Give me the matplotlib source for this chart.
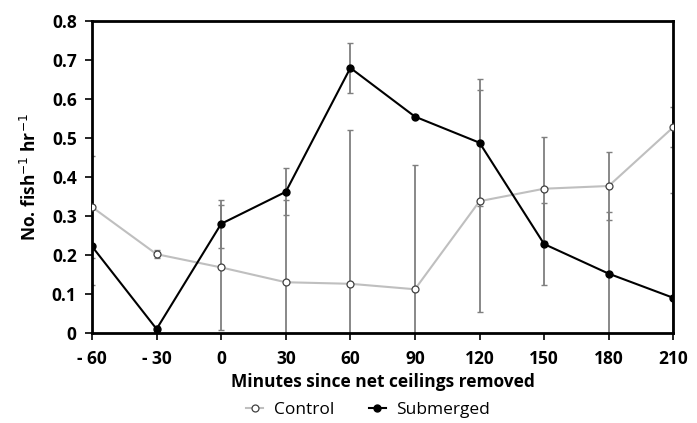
import matplotlib.pyplot as plt
import numpy as np

plt.rcParams['font.family'] = ['Open Sans', 'DejaVu Sans']

minutes = ['- 60', '- 30', '0', '30', '60', '90', '120', '150', '180', '210']
control = [0.323, 0.202, 0.168, 0.130, 0.126, 0.112, 0.338, 0.370, 0.377, 0.528]
control_err = [0.130, 0.010, 0.160, 0.210, 0.394, 0.320, 0.285, 0.133, 0.088, 0.052]
submerged = [0.222, 0.010, 0.280, 0.362, 0.680, 0.555, 0.488, 0.228, 0.152, 0.090]
submerged_err = [0.100, 0.008, 0.062, 0.060, 0.065, 0.004, 0.163, 0.105, 0.158, 0.270]

x = np.arange(len(minutes))

fig = plt.figure(figsize=(6.97, 4.23), dpi=100)
ax = fig.add_axes([0.132, 0.213, 0.834, 0.737])

# error bars first so the lines sit on top
ax.errorbar(x, control, yerr=control_err, fmt='none', ecolor='#7f7f7f',
            elinewidth=1.3, capsize=2.5, capthick=1.0, zorder=2)
ax.errorbar(x, submerged, yerr=submerged_err, fmt='none', ecolor='#7f7f7f',
            elinewidth=1.3, capsize=2.5, capthick=1.0, zorder=2)

ax.plot(x, control, color='#bfbfbf', lw=1.5, marker='o', ms=5,
        mfc='white', mec='#404040', mew=0.9, label='Control', zorder=3)
ax.plot(x, submerged, color='black', lw=1.5, marker='o', ms=5,
        mfc='black', mec='black', label='Submerged', zorder=4)

ax.set_xlim(0, 9)
ax.set_ylim(0, 0.8)
ax.set_xticks(x)
ax.set_xticklabels(minutes)
ax.set_yticks(np.arange(0, 0.81, 0.1))
ax.set_yticklabels(['0'] + ['%.1f' % v for v in np.arange(0.1, 0.81, 0.1)])

for lbl in ax.get_xticklabels() + ax.get_yticklabels():
    lbl.set_fontweight('bold')
    lbl.set_fontsize(12.5)

for s in ax.spines.values():
    s.set_linewidth(2)
    s.set_color('black')
ax.tick_params(axis='both', direction='out', length=5, width=1.2)
ax.tick_params(axis='x', pad=7)
ax.tick_params(axis='y', pad=6)

ax.set_xlabel('Minutes since net ceilings removed', fontsize=12.5,
              fontweight='bold', labelpad=4)
ax.set_ylabel('No. fish$^{-1}$ hr$^{-1}$', fontsize=12.5, fontweight='bold')
ax.yaxis.set_label_coords(-0.09, 0.5)

ax.legend(loc='upper center', bbox_to_anchor=(0.475, -0.2), ncol=2,
          frameon=False, fontsize=12.5, handlelength=1.0, columnspacing=2.0,
          handletextpad=0.6, borderaxespad=0)

fig.savefig('out.png', dpi=100)
